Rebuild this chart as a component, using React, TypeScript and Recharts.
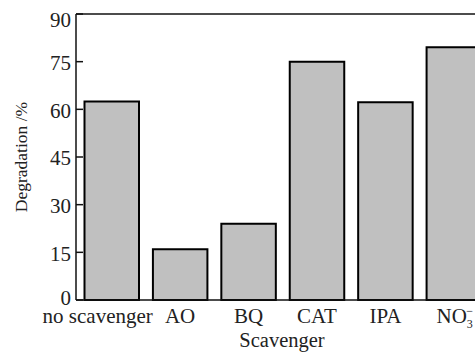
import { BarChart, Bar, XAxis, YAxis, ReferenceLine } from 'recharts';

const categories = ['no scavenger', 'AO', 'BQ', 'CAT', 'IPA', 'NO3'];
const degradation = [62.5, 16, 24, 75, 62.2, 79.5];
const yTicks = [0, 15, 30, 45, 60, 75, 90];

const data = categories.map((name, i) => ({ name, value: degradation[i] }));

const FONT = '"Liberation Serif", "DejaVu Serif", serif';

// category labels, NO3 gets the stacked sub/superscript
const XTick = (props: any) => {
  const { x, y, payload } = props;
  if (payload.value === 'NO3') {
    return (
      <text x={x + 1} y={y + 23} textAnchor="middle" fontSize={21} fill="#222">
        NO
        <tspan fontSize={12} dy={5}>3</tspan>
        <tspan fontSize={12} dx={-6.5} dy={-13}>−</tspan>
      </text>
    );
  }
  const dx = payload.value === 'no scavenger' ? -14 : 0;
  return (
    <text x={x + dx} y={y + 23} textAnchor="middle" fontSize={21} fill="#222">
      {payload.value}
    </text>
  );
};

const YTick = (props: any) => {
  const { x, y, payload } = props;
  let shift = 1;
  if (payload.value === 90) shift = 6;
  if (payload.value === 0) shift = -2;
  return (
    <text x={x} y={y + shift} dy="0.35em" textAnchor="end" fontSize={21} fill="#222">
      {payload.value}
    </text>
  );
};

export default function App() {
  return (
    <div
      style={{
        position: 'absolute',
        left: 0,
        top: 0,
        width: 475,
        height: 352,
        overflow: 'hidden',
        background: '#fff',
        fontFamily: FONT,
      }}
    >
      <BarChart
        width={488}
        height={352}
        data={data}
        margin={{ top: 14, right: 0, bottom: 0, left: 0 }}
      >
        <XAxis
          dataKey="name"
          height={52}
          padding={{ left: 1.5, right: 0 }}
          axisLine={{ stroke: '#111', strokeWidth: 1.5 }}
          tickLine={false}
          tickSize={0}
          tickMargin={0}
          tick={<XTick />}
          interval={0}
          label={{
            value: 'Scavenger',
            position: 'insideBottom',
            offset: 5,
            fontSize: 20.5,
            fill: '#222',
          }}
        />
        <YAxis
          width={76}
          domain={[0, 90]}
          ticks={yTicks}
          interval={0}
          axisLine={{ stroke: '#111', strokeWidth: 1.5 }}
          tickLine={{ stroke: '#111', strokeWidth: 1.5 }}
          tickSize={-7}
          tickMargin={12}
          tick={<YTick />}
          label={{
            value: 'Degradation /%',
            angle: -90,
            position: 'insideLeft',
            offset: 21,
            fontSize: 17.5,
            fill: '#222',
            style: { textAnchor: 'middle' },
          }}
        />
        <ReferenceLine y={90} stroke="#111" strokeWidth={1.5} />
        <Bar
          dataKey="value"
          fill="#c0c0c0"
          stroke="#000"
          strokeWidth={2}
          barSize={54.5}
          isAnimationActive={false}
        />
      </BarChart>
    </div>
  );
}
